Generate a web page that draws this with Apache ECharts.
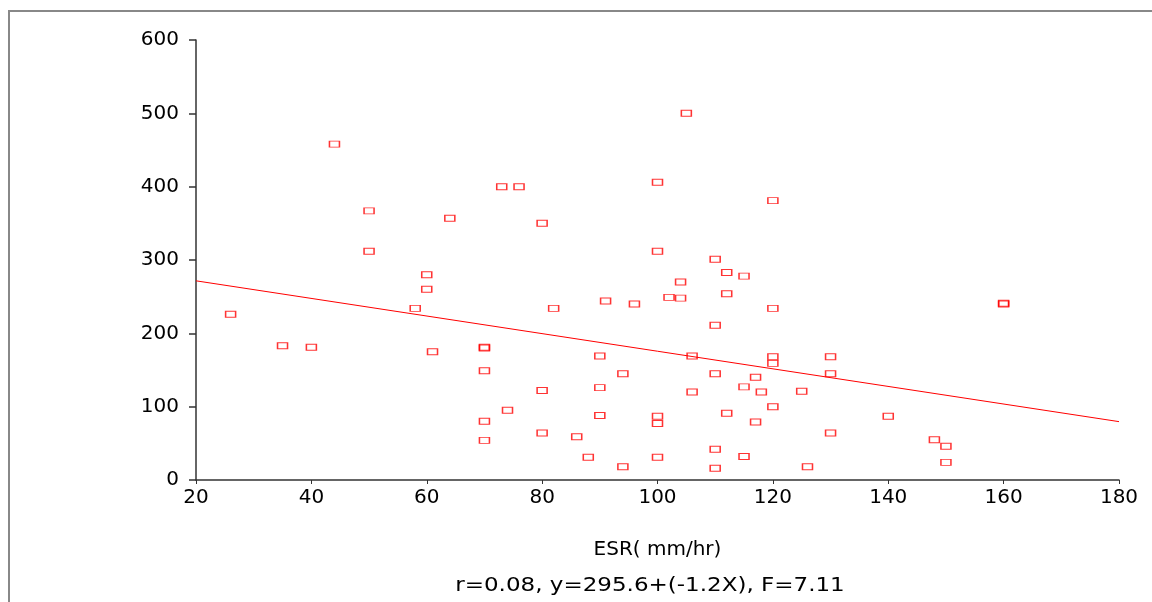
<!DOCTYPE html>
<html>
<head>
<meta charset="utf-8">
<script src="https://cdn.jsdelivr.net/npm/echarts@6/dist/echarts.min.js"></script>
<style>
  html, body { margin: 0; padding: 0; background: #fff; }
  #chart { width: 1152px; height: 602px; }
</style>
</head>
<body>
<div id="chart"></div>
<script>
// ESR (mm/hr) values of each point
const esr = [
  26, 35, 40, 44, 50, 50, 58, 60, 60, 61, 64,
  70, 70, 70, 70, 70, 73, 74, 76, 80, 80, 80, 82, 86, 88,
  90, 90, 90, 91, 94, 94, 96,
  100, 100, 100, 100, 100, 102, 104, 104, 105, 106, 106,
  110, 110, 110, 110, 110, 112, 112, 112, 115, 115, 115, 117, 117, 118,
  120, 120, 120, 120, 120, 125, 126, 130, 130, 130, 140, 148, 150, 150, 160, 160
];
// Y values of each point (same order as esr)
const yValues = [
  226, 183, 181, 458, 367, 312, 234, 280, 260, 175, 357,
  181, 180, 149, 80, 54, 400, 95, 400, 350, 122, 64, 234, 59, 31,
  169, 126, 88, 244, 145, 18, 240,
  406, 312, 87, 77, 31, 249, 270, 248, 500, 169, 120,
  301, 211, 145, 42, 16, 283, 254, 91, 278, 127, 32, 140, 79, 120,
  381, 234, 168, 159, 100, 121, 18, 168, 145, 64, 87, 55, 46, 24, 240, 241
];
// Regression line: y = 295.6 + (-1.2X)
const intercept = 295.6;
const slope = -1.2;
const lineX = [20, 180];
// Axis ticks
const xTicks = { min: 20, max: 180, interval: 20 };
const yTicks = { min: 0, max: 600, interval: 100 };
const xAxisName = 'ESR( mm/hr)';
const footnote = 'r=0.08, y=295.6+(-1.2X), F=7.11';

const points = esr.map((x, i) => [x, yValues[i]]);
const lineData = lineX.map(x => [x, intercept + slope * x]);

const FONT = '"DejaVu Sans", Verdana, sans-serif';
const chart = echarts.init(document.getElementById('chart'), null, { renderer: 'canvas' });
chart.setOption({
  backgroundColor: '#ffffff',
  animation: false,
  grid: { left: 196, right: 33, top: 40, bottom: 122, containLabel: false },
  xAxis: {
    type: 'value',
    min: xTicks.min, max: xTicks.max, interval: xTicks.interval,
    name: xAxisName,
    nameLocation: 'middle',
    nameGap: 60,
    nameTextStyle: { color: '#000', fontSize: 20, fontFamily: FONT },
    axisLine: { onZero: false, lineStyle: { color: '#333', width: 1.5 } },
    axisTick: { show: true, inside: false, length: 4, lineStyle: { color: '#333', width: 1 } },
    axisLabel: { color: '#000', fontSize: 20, fontFamily: FONT, margin: 8 },
    splitLine: { show: false }
  },
  yAxis: {
    type: 'value',
    min: yTicks.min, max: yTicks.max, interval: yTicks.interval,
    axisLine: { show: true, onZero: false, lineStyle: { color: '#333', width: 1.5 } },
    axisTick: { show: true, inside: false, length: 7, lineStyle: { color: '#333', width: 1.5 } },
    axisLabel: { color: '#000', fontSize: 20, fontFamily: FONT, margin: 17 },
    splitLine: { show: false }
  },
  series: [
    {
      type: 'scatter',
      data: points,
      symbol: 'rect',
      symbolSize: [10, 6],
      itemStyle: { color: 'rgba(255,255,255,0)', borderColor: '#ff0000', borderWidth: 1.2 },
      z: 3
    },
    {
      type: 'line',
      data: lineData,
      showSymbol: false,
      symbol: 'none',
      lineStyle: { color: '#ff0000', width: 1 },
      z: 2
    }
  ],
  graphic: [
    {
      type: 'polyline',
      shape: { points: [[9, 602], [9, 11], [1152, 11]] },
      style: { stroke: '#888888', lineWidth: 2, fill: null },
      silent: true
    },
    {
      type: 'text',
      x: 650, y: 586,
      scaleX: 1.15,
      style: {
        text: footnote,
        fill: '#000',
        fontSize: 20,
        fontFamily: FONT,
        align: 'center',
        verticalAlign: 'middle'
      }
    }
  ]
});
</script>
</body>
</html>
